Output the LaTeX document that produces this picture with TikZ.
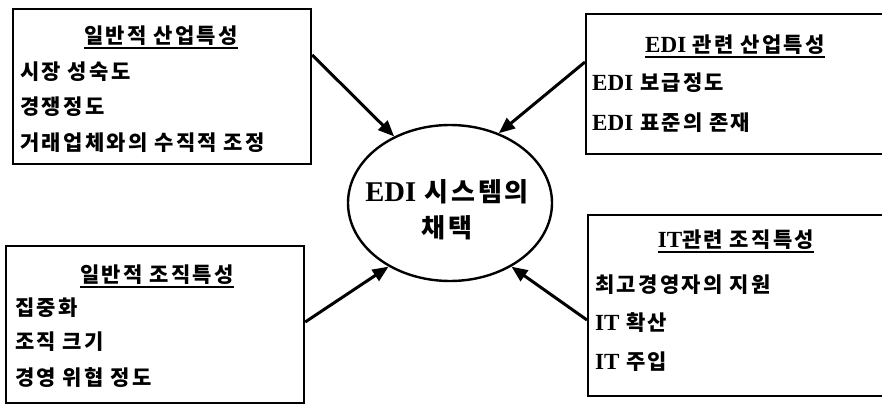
\documentclass[tikz,border=0pt]{standalone}
\usepackage{fontspec}
\usetikzlibrary{arrows.meta,shapes.geometric}
\newfontfamily\krfont{Noto Sans CJK KR}
\newfontfamily\latfont{Liberation Serif}[Scale=1.1]
\newcommand\la[1]{{\latfont\bfseries #1}}
% word gap
\newcommand\ws{\hskip0.32em\relax}
% extra tracking between consecutive Hangul syllables
\newcount\hgc
\hgc="AC00
\loop \XeTeXcharclass\hgc=101 \advance\hgc by 1 \ifnum\hgc<"D7A4 \repeat
\XeTeXinterchartokenstate=1
\XeTeXinterchartoks 101 101 = {\hskip0.11em\relax}
\tikzset{
  frame/.style={draw, line width=2.2pt, inner sep=0pt, anchor=north west},
  txt/.style={font=\krfont\bfseries\fontsize{21}{23}\selectfont, inner sep=0pt},
  item/.style={txt, anchor=west},
  head/.style={txt},
  centertxt/.style={font=\krfont\bfseries\fontsize{26}{28}\selectfont, inner sep=0pt},
  arr/.style={line width=3pt, -{Triangle[length=16pt,width=13pt]}},
  uline/.style={line width=1.2pt},
}
\begin{document}
\begin{tikzpicture}[x=1pt,y=-1pt]
\useasboundingbox (0,0) rectangle (882,406);

% boxes
\node[frame, minimum width=298pt, minimum height=155pt] (tl) at (12,8) {};
\node[frame, minimum width=299pt, minimum height=140pt] (tr) at (585,13) {};
\node[frame, minimum width=298pt, minimum height=157pt] (bl) at (5,245) {};
\node[frame, minimum width=296pt, minimum height=181pt] (br) at (587,214) {};

% central ellipse
\node[draw, ellipse, line width=2.4pt, minimum width=204pt, minimum height=156pt, inner sep=0pt] (e) at (450,203) {};
\node[centertxt] (e1) at (447,192) {\la{EDI}\ws 시스템의};
\node[centertxt] (e2) at (447,228) {채택};

% top left box
\node[head] (h1) at (161,36) {일반적\ws 산업특성};
\draw[uline] ([yshift=-2pt]h1.south west) -- ([yshift=-2pt]h1.south east);
\node[item] (a1) at (20,72) {시장\ws 성숙도};
\node[item] (a2) at (20,107) {경쟁정도};
\node[item] (a3) at (20,143) {거래업체와의\ws 수직적\ws 조정};

% top right box
\node[head] (h2) at (735,45) {\la{EDI}\ws 관련\ws 산업특성};
\draw[uline] ([yshift=-2pt]h2.south west) -- ([yshift=-2pt]h2.south east);
\node[item] (b1) at (592,83) {\la{EDI}\ws 보급정도};
\node[item] (b2) at (592,123) {\la{EDI}\ws 표준의\ws 존재};

% bottom left box
\node[head] (h3) at (157,275) {일반적\ws 조직특성};
\draw[uline] ([yshift=-2pt]h3.south west) -- ([yshift=-2pt]h3.south east);
\node[item] (c1) at (15,308) {집중화};
\node[item] (c2) at (15,342) {조직\ws 크기};
\node[item] (c3) at (15,378) {경영\ws 위협\ws 정도};

% bottom right box
\node[head] (h4) at (736,240) {\la{IT}관련\ws 조직특성};
\draw[uline] ([yshift=-2pt]h4.south west) -- ([yshift=-2pt]h4.south east);
\node[item] (d1) at (595,285) {최고경영자의\ws 지원};
\node[item] (d2) at (595,323) {\la{IT}\ws 확산};
\node[item] (d3) at (595,362) {\la{IT}\ws 주입};

% influences on the adoption
\draw[arr] (tl.east |- 0,55) -- (e.130);
\draw[arr] (tr.west |- 0,62) -- (e.55);
\draw[arr] (bl.east |- 0,322) -- (e.226);
\draw[arr] (br.west |- 0,320) -- (e.314);
\end{tikzpicture}
\end{document}
